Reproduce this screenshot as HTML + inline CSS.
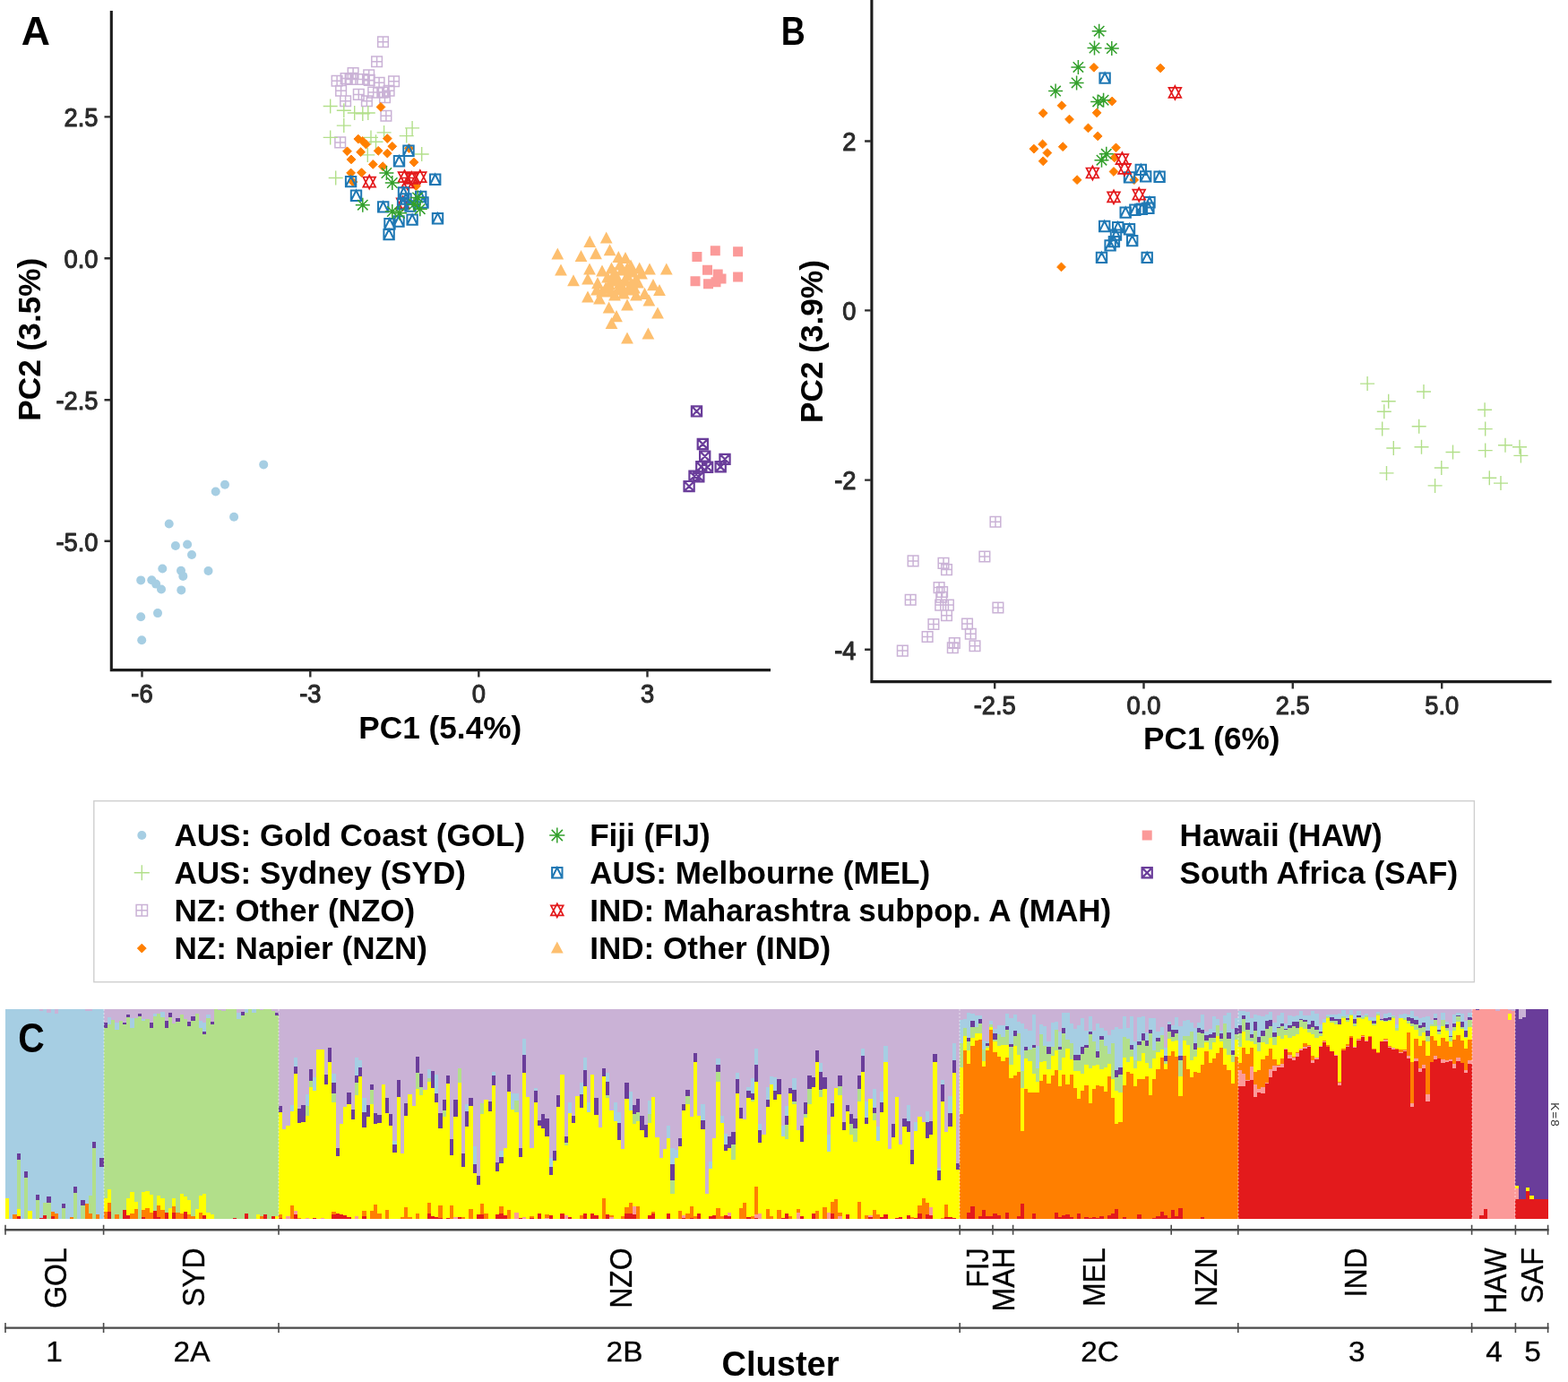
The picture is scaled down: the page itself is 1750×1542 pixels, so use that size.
<!DOCTYPE html>
<html lang="en"><head><meta charset="utf-8"><title>Population structure: PCA and STRUCTURE clusters</title>
<style>html,body{margin:0;padding:0;background:#fff}body{width:1750px;height:1542px;overflow:hidden}svg{display:block}text{font-family:"Liberation Sans", sans-serif}</style>
</head><body>
<svg width="1750" height="1542" viewBox="0 0 1750 1542" role="img" aria-label="PCA scatter plots (A, B) and STRUCTURE bar plot (C)">
<rect width="1750" height="1542" fill="#fff"/>
<g id="panelA">
<path d="M124.3 12V747.6H860" fill="none" stroke="#1c1c1c" stroke-width="3.1" stroke-linejoin="miter"/>
<path d="M158.5 748.6v6.8M346.3 748.6v6.8M534.3 748.6v6.8M722.5 748.6v6.8M123.3 130.4h-6.8M123.3 288.3h-6.8M123.3 446.2h-6.8M123.3 603.8h-6.8" fill="none" stroke="#2e2e2e" stroke-width="2.4"/>
<g font-size="30" fill="#2b2b2b" stroke="#2b2b2b" stroke-width="1.15" stroke-linejoin="round">
<text transform="translate(158.5 784.3) scale(0.91 1)" text-anchor="middle">-6</text>
<text transform="translate(346.3 784.3) scale(0.91 1)" text-anchor="middle">-3</text>
<text transform="translate(534.3 784.3) scale(0.91 1)" text-anchor="middle">0</text>
<text transform="translate(722.5 784.3) scale(0.91 1)" text-anchor="middle">3</text>
<text transform="translate(109.5 141.2) scale(0.91 1)" text-anchor="end">2.5</text>
<text transform="translate(109.5 299.1) scale(0.91 1)" text-anchor="end">0.0</text>
<text transform="translate(109.5 457) scale(0.91 1)" text-anchor="end">-2.5</text>
<text transform="translate(109.5 614.6) scale(0.91 1)" text-anchor="end">-5.0</text>
</g>
<g font-size="35.2" font-weight="bold" fill="#000">
<text x="491.3" y="824.3" text-anchor="middle">PC1 (5.4%)</text>
<text transform="translate(44.6 378.7) rotate(-90)" text-anchor="middle">PC2 (3.5%)</text>
</g>
<circle cx="294.2" cy="518.4" r="5" fill="#a6cee3"/>
<circle cx="251" cy="540.7" r="5" fill="#a6cee3"/>
<circle cx="240.7" cy="548.5" r="5" fill="#a6cee3"/>
<circle cx="261.1" cy="576.7" r="5" fill="#a6cee3"/>
<circle cx="188.7" cy="584.5" r="5" fill="#a6cee3"/>
<circle cx="209.1" cy="607.5" r="5" fill="#a6cee3"/>
<circle cx="195.9" cy="609" r="5" fill="#a6cee3"/>
<circle cx="214" cy="619" r="5" fill="#a6cee3"/>
<circle cx="181.3" cy="634.5" r="5" fill="#a6cee3"/>
<circle cx="232.5" cy="637" r="5" fill="#a6cee3"/>
<circle cx="202" cy="636.7" r="5" fill="#a6cee3"/>
<circle cx="204.3" cy="642.9" r="5" fill="#a6cee3"/>
<circle cx="157.2" cy="647.4" r="5" fill="#a6cee3"/>
<circle cx="169.3" cy="647.2" r="5" fill="#a6cee3"/>
<circle cx="174.1" cy="651.6" r="5" fill="#a6cee3"/>
<circle cx="180" cy="657.5" r="5" fill="#a6cee3"/>
<circle cx="202.3" cy="658.4" r="5" fill="#a6cee3"/>
<circle cx="176" cy="684.1" r="5" fill="#a6cee3"/>
<circle cx="157.2" cy="688.2" r="5" fill="#a6cee3"/>
<circle cx="158.2" cy="714.3" r="5" fill="#a6cee3"/>
<path d="M421.7 40.9h11.6v11.6h-11.6zM421.7 46.7h11.6M427.5 40.9v11.6M414.8 63h11.6v11.6h-11.6zM414.8 68.8h11.6M420.6 63v11.6M388.3 75.8h11.6v11.6h-11.6zM388.3 81.6h11.6M394.1 75.8v11.6M405.9 78.1h11.6v11.6h-11.6zM405.9 83.9h11.6M411.7 78.1v11.6M370.3 84.5h11.6v11.6h-11.6zM370.3 90.3h11.6M376.1 84.5v11.6M380.3 81.8h11.6v11.6h-11.6zM380.3 87.6h11.6M386.1 81.8v11.6M385.3 82.7h11.6v11.6h-11.6zM385.3 88.5h11.6M391.1 82.7v11.6M393.1 82.7h11.6v11.6h-11.6zM393.1 88.5h11.6M398.9 82.7v11.6M399 82.7h11.6v11.6h-11.6zM399 88.5h11.6M404.8 82.7v11.6M406.4 83.6h11.6v11.6h-11.6zM406.4 89.4h11.6M412.2 83.6v11.6M417.3 86.4h11.6v11.6h-11.6zM417.3 92.2h11.6M423.1 86.4v11.6M433.8 85h11.6v11.6h-11.6zM433.8 90.8h11.6M439.6 85v11.6M374.8 95.5h11.6v11.6h-11.6zM374.8 101.3h11.6M380.6 95.5v11.6M394.5 99.6h11.6v11.6h-11.6zM394.5 105.4h11.6M400.3 99.6v11.6M410.9 97.3h11.6v11.6h-11.6zM410.9 103.1h11.6M416.7 97.3v11.6M421 97.3h11.6v11.6h-11.6zM421 103.1h11.6M426.8 97.3v11.6M428.3 95.5h11.6v11.6h-11.6zM428.3 101.3h11.6M434.1 95.5v11.6M379.8 106.9h11.6v11.6h-11.6zM379.8 112.7h11.6M385.6 106.9v11.6M403.6 106.9h11.6v11.6h-11.6zM403.6 112.7h11.6M409.4 106.9v11.6M423.7 102.8h11.6v11.6h-11.6zM423.7 108.6h11.6M429.5 102.8v11.6M425.1 123.4h11.6v11.6h-11.6zM425.1 129.2h11.6M430.9 123.4v11.6M373.9 153.1h11.6v11.6h-11.6zM373.9 158.9h11.6M379.7 153.1v11.6" fill="none" stroke="#cab2d6" stroke-width="1.5"/>
<path d="M360.7 118.5h16M368.7 110.5v16M375.8 123.2h16M383.8 115.2v16M387.7 126h16M395.7 118v16M396.8 126.9h16M404.8 118.9v16M402.8 126h16M410.8 118v16M375.8 140.1h16M383.8 132.1v16M360.7 153.4h16M368.7 145.4v16M406 153.4h16M414 145.4v16M420.6 147.9h16M428.6 139.9v16M452.1 142.9h16M460.1 134.9v16M445.7 151.6h16M453.7 143.6v16M462.7 172h16M470.7 164v16M402.3 172.9h16M410.3 164.9v16M366.7 198.5h16M374.7 190.5v16M411.5 158.3h16M419.5 150.3v16" fill="none" stroke="#b2df8a" stroke-width="1.4"/>
<path d="M456.5 160.6l4.9 4.9l-4.9 4.9l-4.9 -4.9zM425 114.5l4.9 4.9l-4.9 4.9l-4.9 -4.9zM399.8 150.2l4.9 4.9l-4.9 4.9l-4.9 -4.9zM404.8 152.5l4.9 4.9l-4.9 4.9l-4.9 -4.9zM408.5 156.1l4.9 4.9l-4.9 4.9l-4.9 -4.9zM432.3 149.7l4.9 4.9l-4.9 4.9l-4.9 -4.9zM437.8 158.4l4.9 4.9l-4.9 4.9l-4.9 -4.9zM387.5 163.9l4.9 4.9l-4.9 4.9l-4.9 -4.9zM402.6 164.8l4.9 4.9l-4.9 4.9l-4.9 -4.9zM422.2 163.4l4.9 4.9l-4.9 4.9l-4.9 -4.9zM432.3 166.2l4.9 4.9l-4.9 4.9l-4.9 -4.9zM392 173l4.9 4.9l-4.9 4.9l-4.9 -4.9zM416.3 178.5l4.9 4.9l-4.9 4.9l-4.9 -4.9zM427.2 180.8l4.9 4.9l-4.9 4.9l-4.9 -4.9zM391.6 188.1l4.9 4.9l-4.9 4.9l-4.9 -4.9zM403.5 187.7l4.9 4.9l-4.9 4.9l-4.9 -4.9zM462 176.2l4.9 4.9l-4.9 4.9l-4.9 -4.9zM464.3 202.7l4.9 4.9l-4.9 4.9l-4.9 -4.9zM393.9 198.2l4.9 4.9l-4.9 4.9l-4.9 -4.9z" fill="#ff7f00" stroke="#ff7f00" stroke-width="1.0" stroke-linejoin="round"/>
<path d="M412.2 195.5l6.9 13.1h-13.8zM412.2 210.7l6.9 -13.1h-13.8zM451.5 190l6.9 13.1h-13.8zM451.5 205.2l6.9 -13.1h-13.8zM468.8 190l6.9 13.1h-13.8zM468.8 205.2l6.9 -13.1h-13.8zM459.7 191.8l6.9 13.1h-13.8zM459.7 207l6.9 -13.1h-13.8zM449.6 219.2l6.9 13.1h-13.8zM449.6 234.4l6.9 -13.1h-13.8zM455 196.4l6.9 13.1h-13.8zM455 211.6l6.9 -13.1h-13.8z" fill="none" stroke="#e31a1c" stroke-width="1.7"/>
<path d="M450.3 162.6h11.4v11.4h-11.4zM450.3 174l5.7 -11.4l5.7 11.4M439.8 174.1h11.4v11.4h-11.4zM439.8 185.5l5.7 -11.4l5.7 11.4M480 194.6h11.4v11.4h-11.4zM480 206l5.7 -11.4l5.7 11.4M385.9 196.9h11.4v11.4h-11.4zM385.9 208.3l5.7 -11.4l5.7 11.4M391.8 212.5h11.4v11.4h-11.4zM391.8 223.9l5.7 -11.4l5.7 11.4M422 225.2h11.4v11.4h-11.4zM422 236.6l5.7 -11.4l5.7 11.4M444.8 209.3h11.4v11.4h-11.4zM444.8 220.7l5.7 -11.4l5.7 11.4M464 213.8h11.4v11.4h-11.4zM464 225.2l5.7 -11.4l5.7 11.4M443.9 222.1h11.4v11.4h-11.4zM443.9 233.5l5.7 -11.4l5.7 11.4M429.3 244h11.4v11.4h-11.4zM429.3 255.4l5.7 -11.4l5.7 11.4M439.3 241.3h11.4v11.4h-11.4zM439.3 252.7l5.7 -11.4l5.7 11.4M454.4 239.4h11.4v11.4h-11.4zM454.4 250.8l5.7 -11.4l5.7 11.4M482.8 238h11.4v11.4h-11.4zM482.8 249.4l5.7 -11.4l5.7 11.4M428.4 255.9h11.4v11.4h-11.4zM428.4 267.3l5.7 -11.4l5.7 11.4M447.3 216.3h11.4v11.4h-11.4zM447.3 227.7l5.7 -11.4l5.7 11.4M452.3 224.3h11.4v11.4h-11.4zM452.3 235.7l5.7 -11.4l5.7 11.4M466.3 220.3h11.4v11.4h-11.4zM466.3 231.7l5.7 -11.4l5.7 11.4" fill="none" stroke="#1f78b4" stroke-width="2.0"/>
<path d="M423.4 193h16M431.4 185v16M425.7 187.3l11.4 11.4M425.7 198.7l11.4 -11.4M429.8 204h16M437.8 196v16M432.1 198.3l11.4 11.4M432.1 209.7l11.4 -11.4M396.8 228.7h16M404.8 220.7v16M399.1 223l11.4 11.4M399.1 234.4l11.4 -11.4M429.8 236h16M437.8 228v16M432.1 230.3l11.4 11.4M432.1 241.7l11.4 -11.4M438 237.8h16M446 229.8v16M440.3 232.1l11.4 11.4M440.3 243.5l11.4 -11.4M460.8 233.2h16M468.8 225.2v16M463.1 227.5l11.4 11.4M463.1 238.9l11.4 -11.4M458.1 220.4h16M466.1 212.4v16M460.4 214.7l11.4 11.4M460.4 226.1l11.4 -11.4M454 228h16M462 220v16M456.3 222.3l11.4 11.4M456.3 233.7l11.4 -11.4" fill="none" stroke="#33a02c" stroke-width="1.5"/>
<path d="M676.7 258.5l6.9 13.1h-13.8zM658.2 262.8l6.9 13.1h-13.8zM622.3 276.4l6.9 13.1h-13.8zM648.5 279l6.9 13.1h-13.8zM665 276.1l6.9 13.1h-13.8zM680.6 272.2l6.9 13.1h-13.8zM690.3 279.9l6.9 13.1h-13.8zM698 280.9l6.9 13.1h-13.8zM626 294.4l6.9 13.1h-13.8zM658 293.4l6.9 13.1h-13.8zM672 295.4l6.9 13.1h-13.8zM682.5 292.4l6.9 13.1h-13.8zM704 289.4l6.9 13.1h-13.8zM713.7 292.4l6.9 13.1h-13.8zM725 293.4l6.9 13.1h-13.8zM743.8 293.4l6.9 13.1h-13.8zM640 306.2l6.9 13.1h-13.8zM656 304.4l6.9 13.1h-13.8zM667 309.1l6.9 13.1h-13.8zM692 309.1l6.9 13.1h-13.8zM729 311.1l6.9 13.1h-13.8zM736 316.9l6.9 13.1h-13.8zM719.5 320.8l6.9 13.1h-13.8zM710 322.4l6.9 13.1h-13.8zM656 324.4l6.9 13.1h-13.8zM669 326.4l6.9 13.1h-13.8zM679.6 336.4l6.9 13.1h-13.8zM700 333.4l6.9 13.1h-13.8zM724.4 328.4l6.9 13.1h-13.8zM734 342.4l6.9 13.1h-13.8zM688 346.1l6.9 13.1h-13.8zM682.5 353.9l6.9 13.1h-13.8zM723.4 365.4l6.9 13.1h-13.8zM700 370.4l6.9 13.1h-13.8zM686 297.4l6.9 13.1h-13.8zM694 294.4l6.9 13.1h-13.8zM700 300.4l6.9 13.1h-13.8zM706 296.4l6.9 13.1h-13.8zM678 302.4l6.9 13.1h-13.8zM684 306.4l6.9 13.1h-13.8zM698 306.4l6.9 13.1h-13.8zM704 310.4l6.9 13.1h-13.8zM710 304.4l6.9 13.1h-13.8zM676 314.4l6.9 13.1h-13.8zM682 318.4l6.9 13.1h-13.8zM690 316.4l6.9 13.1h-13.8zM696 320.4l6.9 13.1h-13.8zM702 316.4l6.9 13.1h-13.8zM708 314.4l6.9 13.1h-13.8zM672 318.4l6.9 13.1h-13.8zM688 302.4l6.9 13.1h-13.8zM694 312.4l6.9 13.1h-13.8zM680 310.4l6.9 13.1h-13.8zM700 292.4l6.9 13.1h-13.8zM692 288.4l6.9 13.1h-13.8zM686 322.4l6.9 13.1h-13.8zM666 316.4l6.9 13.1h-13.8zM712 308.4l6.9 13.1h-13.8zM716 298.4l6.9 13.1h-13.8z" fill="#fdbf6f"/>
<path d="M772.4 281.1h11v11h-11zM792.8 274.3h11v11h-11zM818.1 275.2h11v11h-11zM784 295.7h11v11h-11zM795.7 300.5h11v11h-11zM799.5 305.5h11v11h-11zM770.5 308.3h11v11h-11zM785 311.2h11v11h-11zM818.1 303.5h11v11h-11zM793.5 309.3h11v11h-11z" fill="#fb9a99"/>
<path d="M771.9 453.3h11.2v11.2h-11.2zM771.9 453.3l11.2 11.2M771.9 464.5l11.2 -11.2M778.7 489.9h11.2v11.2h-11.2zM778.7 489.9l11.2 11.2M778.7 501.1l11.2 -11.2M781.1 503.5h11.2v11.2h-11.2zM781.1 503.5l11.2 11.2M781.1 514.7l11.2 -11.2M803.4 506.8h11.2v11.2h-11.2zM803.4 506.8l11.2 11.2M803.4 518l11.2 -11.2M798.6 515.2h11.2v11.2h-11.2zM798.6 515.2l11.2 11.2M798.6 526.4l11.2 -11.2M777.2 515.2h11.2v11.2h-11.2zM777.2 515.2l11.2 11.2M777.2 526.4l11.2 -11.2M784 515.6h11.2v11.2h-11.2zM784 515.6l11.2 11.2M784 526.8l11.2 -11.2M769.4 525.7h11.2v11.2h-11.2zM769.4 525.7l11.2 11.2M769.4 536.9l11.2 -11.2M774.2 526.3h11.2v11.2h-11.2zM774.2 526.3l11.2 11.2M774.2 537.5l11.2 -11.2M763.5 537h11.2v11.2h-11.2zM763.5 537l11.2 11.2M763.5 548.2l11.2 -11.2" fill="none" stroke="#6a3d9a" stroke-width="2.2"/>
<text x="23.8" y="49.8" font-size="44.5" font-weight="bold" fill="#000">A</text>
</g>
<g id="panelB">
<path d="M972.9 0V760.6H1731.6" fill="none" stroke="#1c1c1c" stroke-width="3.1" stroke-linejoin="miter"/>
<path d="M1110.2 761.6v6.8M1276.5 761.6v6.8M1442.8 761.6v6.8M1609.2 761.6v6.8M971.9 157.5h-6.8M971.9 346.4h-6.8M971.9 535.6h-6.8M971.9 724.7h-6.8" fill="none" stroke="#2e2e2e" stroke-width="2.4"/>
<g font-size="30" fill="#2b2b2b" stroke="#2b2b2b" stroke-width="1.15" stroke-linejoin="round">
<text transform="translate(1110.2 796.6) scale(0.91 1)" text-anchor="middle">-2.5</text>
<text transform="translate(1276.5 796.6) scale(0.91 1)" text-anchor="middle">0.0</text>
<text transform="translate(1442.8 796.6) scale(0.91 1)" text-anchor="middle">2.5</text>
<text transform="translate(1609.2 796.6) scale(0.91 1)" text-anchor="middle">5.0</text>
<text transform="translate(955.5 168.3) scale(0.91 1)" text-anchor="end">2</text>
<text transform="translate(955.5 357.2) scale(0.91 1)" text-anchor="end">0</text>
<text transform="translate(955.5 546.4) scale(0.91 1)" text-anchor="end">-2</text>
<text transform="translate(955.5 735.5) scale(0.91 1)" text-anchor="end">-4</text>
</g>
<g font-size="35.2" font-weight="bold" fill="#000">
<text x="1352.3" y="836" text-anchor="middle">PC1 (6%)</text>
<text transform="translate(917.8 381) rotate(-90)" text-anchor="middle">PC2 (3.9%)</text>
</g>
<path d="M1105.2 576.5h11.6v11.6h-11.6zM1105.2 582.3h11.6M1111 576.5v11.6M1093.1 615.2h11.6v11.6h-11.6zM1093.1 621h11.6M1098.9 615.2v11.6M1013.3 620.1h11.6v11.6h-11.6zM1013.3 625.9h11.6M1019.1 620.1v11.6M1047.2 622.6h11.6v11.6h-11.6zM1047.2 628.4h11.6M1053 622.6v11.6M1050.7 629.8h11.6v11.6h-11.6zM1050.7 635.6h11.6M1056.5 629.8v11.6M1042.3 649.8h11.6v11.6h-11.6zM1042.3 655.6h11.6M1048.1 649.8v11.6M1045.8 654.7h11.6v11.6h-11.6zM1045.8 660.5h11.6M1051.6 654.7v11.6M1044.9 660.5h11.6v11.6h-11.6zM1044.9 666.3h11.6M1050.7 660.5v11.6M1010.4 663.5h11.6v11.6h-11.6zM1010.4 669.3h11.6M1016.2 663.5v11.6M1043.9 669.3h11.6v11.6h-11.6zM1043.9 675.1h11.6M1049.7 669.3v11.6M1052.6 669.3h11.6v11.6h-11.6zM1052.6 675.1h11.6M1058.4 669.3v11.6M1108.1 672.2h11.6v11.6h-11.6zM1108.1 678h11.6M1113.9 672.2v11.6M1050.7 681h11.6v11.6h-11.6zM1050.7 686.8h11.6M1056.5 681v11.6M1036.1 690.7h11.6v11.6h-11.6zM1036.1 696.5h11.6M1041.9 690.7v11.6M1073.7 690.3h11.6v11.6h-11.6zM1073.7 696.1h11.6M1079.5 690.3v11.6M1077.5 701.4h11.6v11.6h-11.6zM1077.5 707.2h11.6M1083.3 701.4v11.6M1029.3 704.7h11.6v11.6h-11.6zM1029.3 710.5h11.6M1035.1 704.7v11.6M1059.5 711.7h11.6v11.6h-11.6zM1059.5 717.5h11.6M1065.3 711.7v11.6M1057.5 717h11.6v11.6h-11.6zM1057.5 722.8h11.6M1063.3 717v11.6M1082.2 715h11.6v11.6h-11.6zM1082.2 720.8h11.6M1088 715v11.6M1001.5 720.3h11.6v11.6h-11.6zM1001.5 726.1h11.6M1007.3 720.3v11.6" fill="none" stroke="#cab2d6" stroke-width="1.5"/>
<path d="M1518.1 428.1h16M1526.1 420.1v16M1581 437h16M1589 429v16M1541.7 447.7h16M1549.7 439.7v16M1536.8 459.2h16M1544.8 451.2v16M1649.1 457.2h16M1657.1 449.2v16M1534.7 478.6h16M1542.7 470.6v16M1575.7 475.7h16M1583.7 467.7v16M1649.7 478.6h16M1657.7 470.6v16M1547.3 500h16M1555.3 492v16M1578.5 498.7h16M1586.5 490.7v16M1613.5 504.5h16M1621.5 496.5v16M1649.7 502.6h16M1657.7 494.6v16M1672 496.7h16M1680 488.7v16M1688 498.7h16M1696 490.7v16M1689.4 508.4h16M1697.4 500.4v16M1600.8 522h16M1608.8 514v16M1539.5 527.9h16M1547.5 519.9v16M1593.6 541.9h16M1601.6 533.9v16M1654.3 533.3h16M1662.3 525.3v16M1667 539.1h16M1675 531.1v16" fill="none" stroke="#b2df8a" stroke-width="1.4"/>
<path d="M1220.9 70.4l4.9 4.9l-4.9 4.9l-4.9 -4.9zM1295.2 71.1l4.9 4.9l-4.9 4.9l-4.9 -4.9zM1241.2 108.1l4.9 4.9l-4.9 4.9l-4.9 -4.9zM1185 112.8l4.9 4.9l-4.9 4.9l-4.9 -4.9zM1164.2 121.4l4.9 4.9l-4.9 4.9l-4.9 -4.9zM1224.1 120.9l4.9 4.9l-4.9 4.9l-4.9 -4.9zM1193.5 128.2l4.9 4.9l-4.9 4.9l-4.9 -4.9zM1214.5 138l4.9 4.9l-4.9 4.9l-4.9 -4.9zM1225.2 147l4.9 4.9l-4.9 4.9l-4.9 -4.9zM1163.6 156l4.9 4.9l-4.9 4.9l-4.9 -4.9zM1186.2 158.8l4.9 4.9l-4.9 4.9l-4.9 -4.9zM1153.9 161.2l4.9 4.9l-4.9 4.9l-4.9 -4.9zM1168.9 165.7l4.9 4.9l-4.9 4.9l-4.9 -4.9zM1164.2 174.9l4.9 4.9l-4.9 4.9l-4.9 -4.9zM1245.5 159.9l4.9 4.9l-4.9 4.9l-4.9 -4.9zM1243.8 171l4.9 4.9l-4.9 4.9l-4.9 -4.9zM1243 186.6l4.9 4.9l-4.9 4.9l-4.9 -4.9zM1202.1 195.8l4.9 4.9l-4.9 4.9l-4.9 -4.9zM1265.8 195.8l4.9 4.9l-4.9 4.9l-4.9 -4.9zM1184.5 293l4.9 4.9l-4.9 4.9l-4.9 -4.9z" fill="#ff7f00" stroke="#ff7f00" stroke-width="1.0" stroke-linejoin="round"/>
<path d="M1227.4 81.4h11.4v11.4h-11.4zM1227.4 92.8l5.7 -11.4l5.7 11.4M1267.6 183.7h11.4v11.4h-11.4zM1267.6 195.1l5.7 -11.4l5.7 11.4M1273 191.2h11.4v11.4h-11.4zM1273 202.6l5.7 -11.4l5.7 11.4M1288.4 191.6h11.4v11.4h-11.4zM1288.4 203l5.7 -11.4l5.7 11.4M1254.8 192.2h11.4v11.4h-11.4zM1254.8 203.6l5.7 -11.4l5.7 11.4M1277.3 220.1h11.4v11.4h-11.4zM1277.3 231.5l5.7 -11.4l5.7 11.4M1276.2 226.5h11.4v11.4h-11.4zM1276.2 237.9l5.7 -11.4l5.7 11.4M1268.7 227.6h11.4v11.4h-11.4zM1268.7 239l5.7 -11.4l5.7 11.4M1261.2 228.6h11.4v11.4h-11.4zM1261.2 240l5.7 -11.4l5.7 11.4M1250.5 231.4h11.4v11.4h-11.4zM1250.5 242.8l5.7 -11.4l5.7 11.4M1227 246.8h11.4v11.4h-11.4zM1227 258.2l5.7 -11.4l5.7 11.4M1242 247.9h11.4v11.4h-11.4zM1242 259.3l5.7 -11.4l5.7 11.4M1254.8 250h11.4v11.4h-11.4zM1254.8 261.4l5.7 -11.4l5.7 11.4M1239.8 256.4h11.4v11.4h-11.4zM1239.8 267.8l5.7 -11.4l5.7 11.4M1258 262.9h11.4v11.4h-11.4zM1258 274.3l5.7 -11.4l5.7 11.4M1237.7 263.9h11.4v11.4h-11.4zM1237.7 275.3l5.7 -11.4l5.7 11.4M1233.4 268.2h11.4v11.4h-11.4zM1233.4 279.6l5.7 -11.4l5.7 11.4M1223.8 281.7h11.4v11.4h-11.4zM1223.8 293.1l5.7 -11.4l5.7 11.4M1274.5 281.7h11.4v11.4h-11.4zM1274.5 293.1l5.7 -11.4l5.7 11.4" fill="none" stroke="#1f78b4" stroke-width="2.0"/>
<path d="M1311.4 95.8l6.9 13.1h-13.8zM1311.4 111l6.9 -13.1h-13.8zM1252.4 170l6.9 13.1h-13.8zM1252.4 185.2l6.9 -13.1h-13.8zM1255.1 180.7l6.9 13.1h-13.8zM1255.1 195.9l6.9 -13.1h-13.8zM1219.4 185.4l6.9 13.1h-13.8zM1219.4 200.6l6.9 -13.1h-13.8zM1243 212.2l6.9 13.1h-13.8zM1243 227.4l6.9 -13.1h-13.8zM1271.2 209.6l6.9 13.1h-13.8zM1271.2 224.8l6.9 -13.1h-13.8z" fill="none" stroke="#e31a1c" stroke-width="1.7"/>
<path d="M1218.7 34.7h16M1226.7 26.7v16M1221 29l11.4 11.4M1221 40.4l11.4 -11.4M1213.5 53.5h16M1221.5 45.5v16M1215.8 47.8l11.4 11.4M1215.8 59.2l11.4 -11.4M1232.8 54.1h16M1240.8 46.1v16M1235.1 48.4l11.4 11.4M1235.1 59.8l11.4 -11.4M1195.4 74.9h16M1203.4 66.9v16M1197.7 69.2l11.4 11.4M1197.7 80.6l11.4 -11.4M1193.6 92.4h16M1201.6 84.4v16M1195.9 86.7l11.4 11.4M1195.9 98.1l11.4 -11.4M1170.1 101.6h16M1178.1 93.6v16M1172.4 95.9l11.4 11.4M1172.4 107.3l11.4 -11.4M1217.2 113.4h16M1225.2 105.4v16M1219.5 107.7l11.4 11.4M1219.5 119.1l11.4 -11.4M1223.6 111.7h16M1231.6 103.7v16M1225.9 106l11.4 11.4M1225.9 117.4l11.4 -11.4M1226.8 171.8h16M1234.8 163.8v16M1229.1 166.1l11.4 11.4M1229.1 177.5l11.4 -11.4M1221.5 178.7h16M1229.5 170.7v16M1223.8 173l11.4 11.4M1223.8 184.4l11.4 -11.4" fill="none" stroke="#33a02c" stroke-width="1.5"/>
<text x="871.8" y="49.8" font-size="43.5" font-weight="bold" fill="#000" textLength="27" lengthAdjust="spacingAndGlyphs">B</text>
</g>
<g id="legend">
<rect x="104.8" y="893.7" width="1540.6" height="202" fill="#fff" stroke="#cfcfcf" stroke-width="1.4"/>
<g font-size="35.1" font-weight="bold" fill="#000">
<text x="194.4" y="944.2">AUS: Gold Coast (GOL)</text>
<text x="194.4" y="986">AUS: Sydney (SYD)</text>
<text x="194.4" y="1028">NZ: Other (NZO)</text>
<text x="194.4" y="1070.3">NZ: Napier (NZN)</text>
<text x="658.2" y="944.2">Fiji (FIJ)</text>
<text x="658.2" y="986">AUS: Melbourne (MEL)</text>
<text x="658.2" y="1028">IND: Maharashtra subpop. A (MAH)</text>
<text x="658.2" y="1070.3">IND: Other (IND)</text>
<text x="1316.6" y="944.2">Hawaii (HAW)</text>
<text x="1316.6" y="986">South Africa (SAF)</text>
</g>
<circle cx="158.3" cy="932" r="5" fill="#a6cee3"/>
<path d="M149.7 973.8h17.1M158.3 965.2v17.1" fill="none" stroke="#b2df8a" stroke-width="1.4"/>
<path d="M152.1 1009.6h12.4v12.4h-12.4zM152.1 1015.8h12.4M158.3 1009.6v12.4" fill="none" stroke="#cab2d6" stroke-width="1.5"/>
<path d="M158.3 1053.2l4.9 4.9l-4.9 4.9l-4.9 -4.9z" fill="#ff7f00" stroke="#ff7f00" stroke-width="1.0" stroke-linejoin="round"/>
<path d="M613.2 932h17.1M621.8 923.4v17.1M615.7 925.9l12.2 12.2M615.7 938.1l12.2 -12.2" fill="none" stroke="#33a02c" stroke-width="1.5"/>
<path d="M616.1 968.1h11.4v11.4h-11.4zM616.1 979.5l5.7 -11.4l5.7 11.4" fill="none" stroke="#1f78b4" stroke-width="2.0"/>
<path d="M621.8 1008.2l6.9 13.1h-13.8zM621.8 1023.4l6.9 -13.1h-13.8z" fill="none" stroke="#e31a1c" stroke-width="1.7"/>
<path d="M621.8 1050.5l6.9 13.1h-13.8z" fill="#fdbf6f"/>
<path d="M1274.7 926.5h11v11h-11z" fill="#fb9a99"/>
<path d="M1274.6 968.2h11.2v11.2h-11.2zM1274.6 968.2l11.2 11.2M1274.6 979.4l11.2 -11.2" fill="none" stroke="#6a3d9a" stroke-width="2.2"/>
</g>
<rect x="6" y="1126" width="110" height="234" fill="#a6cee3"/>
<rect x="116" y="1126" width="195" height="234" fill="#b2df8a"/>
<rect x="311" y="1126" width="760" height="234" fill="#cab2d6"/>
<rect x="1071" y="1126" width="37" height="234" fill="#ff7f00"/>
<rect x="1108" y="1126" width="23" height="234" fill="#ff7f00"/>
<rect x="1131" y="1126" width="176" height="234" fill="#ff7f00"/>
<rect x="1307" y="1126" width="75" height="234" fill="#ff7f00"/>
<rect x="1382" y="1126" width="261" height="234" fill="#e31a1c"/>
<rect x="1643" y="1126" width="48" height="234" fill="#fb9a99"/>
<rect x="1691" y="1126" width="37" height="234" fill="#6a3d9a"/>
<g shape-rendering="crispEdges">
<path d="M19 1357h4v3h-4zM44 1359h4v1h-4zM48 1356h4v4h-4zM57 1357h4v3h-4zM120 1352h4v8h-4zM137 1350h4v10h-4zM141 1356h4v4h-4zM158 1358h4v2h-4zM171 1351h4v9h-4zM175 1358h4v2h-4zM184 1353h4v7h-4zM192 1353h4v7h-4zM205 1352h4v8h-4zM226 1356h4v4h-4zM260 1359h4v1h-4zM273 1354h4v6h-4zM294 1355h4v5h-4zM303 1357h4v3h-4zM311 1359h4v1h-4zM328 1355h4v5h-4zM349 1359h4v1h-4zM370 1355h5v5h-5zM375 1354h4v6h-4zM379 1355h4v5h-4zM383 1356h4v4h-4zM387 1358h5v2h-5zM404 1357h5v3h-5zM477 1354h4v6h-4zM481 1357h4v3h-4zM485 1358h4v2h-4zM489 1359h5v1h-5zM498 1359h4v1h-4zM511 1358h4v2h-4zM532 1355h4v5h-4zM536 1355h4v5h-4zM553 1355h4v5h-4zM557 1354h5v6h-5zM562 1356h4v4h-4zM579 1359h4v1h-4zM591 1359h5v1h-5zM600 1354h4v6h-4zM613 1356h4v4h-4zM625 1354h5v6h-5zM634 1358h4v2h-4zM651 1354h4v6h-4zM659 1354h4v6h-4zM663 1356h5v4h-5zM676 1355h4v5h-4zM697 1354h5v6h-5zM702 1354h4v6h-4zM706 1355h4v5h-4zM723 1356h4v4h-4zM727 1354h4v6h-4zM744 1354h4v6h-4zM761 1359h4v1h-4zM770 1359h4v1h-4zM778 1354h4v6h-4zM791 1357h4v3h-4zM795 1356h4v4h-4zM808 1356h4v4h-4zM812 1357h4v3h-4zM833 1358h5v2h-5zM842 1359h4v1h-4zM872 1359h4v1h-4zM876 1354h4v6h-4zM893 1357h4v3h-4zM906 1354h4v6h-4zM927 1354h4v6h-4zM944 1355h4v5h-4zM969 1358h5v2h-5zM982 1358h4v2h-4zM986 1355h5v5h-5zM999 1359h4v1h-4zM1003 1358h4v2h-4zM1012 1356h4v4h-4zM1020 1359h4v1h-4zM1024 1354h5v6h-5zM1033 1355h4v5h-4zM1037 1356h4v4h-4zM1054 1358h4v2h-4zM1058 1358h5v2h-5zM1063 1359h4v1h-4zM1079 1353h4v7h-4zM1083 1346h5v14h-5zM1092 1357h4v3h-4zM1096 1350h4v10h-4zM1100 1357h4v3h-4zM1104 1357h4v3h-4zM1108 1354h5v6h-5zM1113 1356h4v4h-4zM1122 1353h4v7h-4zM1135 1357h4v3h-4zM1139 1343h4v17h-4zM1152 1354h4v6h-4zM1177 1353h4v7h-4zM1181 1358h4v2h-4zM1185 1356h4v4h-4zM1189 1355h5v5h-5zM1194 1358h4v2h-4zM1202 1354h4v6h-4zM1210 1358h5v2h-5zM1215 1359h4v1h-4zM1219 1358h4v2h-4zM1223 1359h4v1h-4zM1227 1357h5v3h-5zM1236 1356h4v4h-4zM1240 1354h4v6h-4zM1244 1349h4v11h-4zM1253 1358h4v2h-4zM1269 1355h5v5h-5zM1286 1359h4v1h-4zM1290 1357h5v3h-5zM1295 1352h4v8h-4zM1299 1356h4v4h-4zM1303 1359h4v1h-4zM1307 1350h4v10h-4zM1311 1357h4v3h-4zM1315 1348h5v12h-5zM1340 1358h4v2h-4zM1651 1356h5v4h-5zM1656 1349h4v11h-4zM1691 1338h4v22h-4zM1695 1338h4v22h-4zM1699 1338h4v22h-4zM1703 1329h4v31h-4zM1707 1338h5v22h-5zM1712 1338h4v22h-4zM1716 1338h4v22h-4zM1720 1338h4v22h-4zM1724 1338h4v22h-4z" fill="#e31a1c"/>
<path d="M319 1357h5v3h-5zM328 1351h4v4h-4zM341 1359h4v1h-4zM358 1359h4v1h-4zM396 1357h4v3h-4zM506 1358h5v2h-5zM574 1353h5v7h-5zM583 1358h4v2h-4zM608 1359h5v1h-5zM630 1356h4v4h-4zM680 1358h5v2h-5zM706 1346h4v9h-4zM761 1356h4v3h-4zM812 1353h4v4h-4zM842 1355h4v4h-4zM846 1354h4v6h-4zM889 1353h4v7h-4zM923 1353h4v7h-4zM935 1357h5v3h-5zM969 1356h5v2h-5zM1037 1347h4v9h-4zM1382 1194h4v18h-4zM1386 1198h4v14h-4zM1390 1205h5v1h-5zM1395 1190h4v15h-4zM1399 1210h4v14h-4zM1403 1215h4v4h-4zM1407 1213h5v7h-5zM1412 1208h4v1h-4zM1416 1193h4v9h-4zM1420 1189h5v6h-5zM1425 1189h4v2h-4zM1429 1187h4v4h-4zM1433 1170h4v1h-4zM1437 1177h5v4h-5zM1442 1180h4v3h-4zM1446 1175h4v4h-4zM1450 1170h4v2h-4zM1454 1168h5v2h-5zM1459 1167h4v1h-4zM1463 1183h4v3h-4zM1467 1180h5v2h-5zM1472 1167h4v1h-4zM1476 1162h4v1h-4zM1489 1177h4v1h-4zM1493 1208h4v3h-4zM1502 1167h4v1h-4zM1510 1168h4v1h-4zM1514 1160h5v1h-5zM1519 1156h4v1h-4zM1523 1161h4v1h-4zM1544 1160h5v2h-5zM1549 1168h4v1h-4zM1553 1169h4v2h-4zM1561 1174h5v1h-5zM1566 1172h4v1h-4zM1570 1178h4v3h-4zM1574 1231h4v4h-4zM1578 1181h5v3h-5zM1583 1192h4v4h-4zM1587 1188h4v4h-4zM1591 1221h5v8h-5zM1600 1178h4v4h-4zM1608 1182h5v4h-5zM1613 1183h4v2h-4zM1617 1182h4v2h-4zM1621 1187h4v5h-4zM1625 1180h5v4h-5zM1634 1194h4v3h-4zM1638 1183h5v4h-5zM1691 1326h4v12h-4z" fill="#fb9a99"/>
<path d="M14 1355h5v5h-5zM57 1352h4v5h-4zM61 1354h4v6h-4zM78 1358h4v2h-4zM95 1343h4v17h-4zM99 1354h4v6h-4zM107 1355h4v5h-4zM116 1352h4v8h-4zM120 1342h4v10h-4zM128 1355h5v5h-5zM145 1354h5v6h-5zM150 1349h4v11h-4zM158 1350h4v8h-4zM162 1348h5v12h-5zM167 1353h4v7h-4zM175 1345h4v13h-4zM179 1350h5v10h-5zM192 1346h4v7h-4zM196 1353h5v7h-5zM201 1354h4v6h-4zM209 1355h4v5h-4zM213 1357h5v3h-5zM222 1353h4v7h-4zM290 1357h4v3h-4zM311 1355h4v4h-4zM324 1345h4v15h-4zM332 1359h4v1h-4zM370 1352h5v3h-5zM404 1351h5v6h-5zM413 1351h4v9h-4zM417 1344h4v16h-4zM421 1354h5v6h-5zM430 1350h4v10h-4zM447 1358h4v2h-4zM451 1347h4v13h-4zM455 1358h5v2h-5zM464 1354h4v6h-4zM477 1342h4v12h-4zM489 1345h5v14h-5zM502 1345h4v15h-4zM515 1358h4v2h-4zM523 1349h5v11h-5zM536 1343h4v12h-4zM540 1354h5v6h-5zM557 1346h5v8h-5zM566 1350h4v10h-4zM591 1357h5v2h-5zM608 1355h5v4h-5zM647 1356h4v4h-4zM672 1337h4v23h-4zM680 1356h5v2h-5zM693 1357h4v3h-4zM697 1347h5v7h-5zM702 1342h4v12h-4zM710 1346h4v14h-4zM727 1352h4v2h-4zM757 1351h4v9h-4zM765 1354h5v6h-5zM770 1346h4v13h-4zM774 1357h4v3h-4zM799 1348h5v12h-5zM804 1357h4v3h-4zM825 1348h4v12h-4zM829 1342h4v18h-4zM838 1357h4v3h-4zM842 1324h4v31h-4zM855 1349h4v11h-4zM859 1357h4v3h-4zM867 1350h5v10h-5zM880 1357h4v3h-4zM889 1349h4v4h-4zM910 1351h4v9h-4zM918 1347h5v13h-5zM927 1341h4v13h-4zM931 1338h4v22h-4zM935 1353h5v4h-5zM957 1341h4v19h-4zM965 1356h4v4h-4zM974 1350h4v10h-4zM978 1355h4v5h-4zM1016 1358h4v2h-4zM1024 1345h5v9h-5zM1029 1337h4v23h-4zM1033 1342h4v13h-4zM1050 1359h4v1h-4zM1054 1344h4v14h-4zM1382 1186h4v8h-4zM1386 1169h4v29h-4zM1390 1176h5v29h-5zM1395 1169h4v21h-4zM1399 1196h4v14h-4zM1403 1194h4v21h-4zM1407 1182h5v31h-5zM1412 1178h4v30h-4zM1416 1170h4v23h-4zM1420 1182h5v7h-5zM1425 1188h4v1h-4zM1429 1181h4v6h-4zM1437 1174h5v3h-5zM1442 1179h4v1h-4zM1446 1174h4v1h-4zM1454 1164h5v4h-5zM1459 1166h4v1h-4zM1463 1178h4v5h-4zM1476 1161h4v1h-4zM1480 1166h4v2h-4zM1493 1207h4v1h-4zM1497 1170h5v2h-5zM1502 1165h4v2h-4zM1506 1156h4v2h-4zM1514 1159h5v1h-5zM1519 1155h4v1h-4zM1527 1156h4v1h-4zM1531 1170h5v1h-5zM1536 1174h4v1h-4zM1544 1159h5v1h-5zM1549 1167h4v1h-4zM1557 1170h4v1h-4zM1561 1171h5v3h-5zM1566 1171h4v1h-4zM1570 1152h4v26h-4zM1574 1185h4v46h-4zM1578 1159h5v22h-5zM1583 1167h4v25h-4zM1587 1161h4v27h-4zM1591 1178h5v43h-5zM1596 1156h4v29h-4zM1600 1161h4v17h-4zM1604 1167h4v14h-4zM1608 1158h5v24h-5zM1613 1162h4v21h-4zM1617 1168h4v14h-4zM1621 1160h4v27h-4zM1625 1155h5v25h-5zM1630 1161h4v25h-4zM1634 1170h4v24h-4zM1638 1160h5v23h-5z" fill="#ff7f00"/>
<path d="M6 1337h4v23h-4zM19 1349h4v8h-4zM31 1351h5v9h-5zM116 1337h4v15h-4zM120 1327h4v15h-4zM141 1337h4v19h-4zM145 1330h5v24h-5zM150 1341h4v8h-4zM158 1330h4v20h-4zM162 1329h5v19h-5zM167 1333h4v20h-4zM175 1334h4v11h-4zM179 1337h5v13h-5zM188 1348h4v12h-4zM192 1337h4v9h-4zM201 1332h4v22h-4zM205 1335h4v17h-4zM209 1339h4v16h-4zM218 1349h4v11h-4zM222 1334h4v19h-4zM226 1332h4v24h-4zM230 1353h5v7h-5zM235 1355h4v5h-4zM286 1355h4v5h-4zM307 1357h4v3h-4zM311 1241h4v114h-4zM315 1260h4v100h-4zM319 1256h5v101h-5zM324 1240h4v105h-4zM328 1198h4v153h-4zM332 1253h4v106h-4zM336 1252h5v108h-5zM341 1245h4v114h-4zM345 1213h4v147h-4zM349 1217h4v142h-4zM353 1171h5v189h-5zM358 1171h4v188h-4zM362 1210h4v150h-4zM366 1185h4v175h-4zM370 1230h5v122h-5zM375 1290h4v64h-4zM379 1254h4v101h-4zM383 1235h4v121h-4zM387 1232h5v126h-5zM392 1249h4v111h-4zM396 1222h4v135h-4zM400 1201h4v159h-4zM404 1258h5v93h-5zM409 1246h4v114h-4zM413 1232h4v119h-4zM417 1254h4v90h-4zM421 1253h5v101h-5zM426 1210h4v150h-4zM430 1242h4v108h-4zM434 1256h4v104h-4zM438 1286h5v74h-5zM443 1224h4v136h-4zM447 1287h4v71h-4zM451 1245h4v102h-4zM455 1221h5v137h-5zM460 1234h4v126h-4zM464 1215h4v139h-4zM468 1222h4v138h-4zM472 1216h5v144h-5zM477 1207h4v135h-4zM481 1214h4v143h-4zM485 1230h4v128h-4zM489 1259h5v86h-5zM494 1246h4v114h-4zM498 1209h4v150h-4zM502 1289h4v56h-4zM506 1246h5v112h-5zM511 1208h4v150h-4zM515 1302h4v56h-4zM519 1257h4v103h-4zM523 1234h5v115h-5zM528 1309h4v51h-4zM532 1322h4v33h-4zM536 1243h4v100h-4zM540 1227h5v127h-5zM545 1240h4v120h-4zM549 1211h4v149h-4zM553 1307h4v48h-4zM557 1298h5v48h-5zM562 1281h4v75h-4zM566 1218h4v132h-4zM570 1238h4v122h-4zM574 1241h5v112h-5zM579 1291h4v68h-4zM583 1197h4v161h-4zM587 1224h4v136h-4zM591 1281h5v76h-5zM596 1230h4v130h-4zM600 1256h4v98h-4zM604 1259h4v101h-4zM608 1268h5v87h-5zM613 1311h4v45h-4zM617 1295h4v65h-4zM621 1235h4v125h-4zM625 1199h5v155h-5zM630 1278h4v78h-4zM634 1242h4v116h-4zM638 1253h4v107h-4zM642 1223h5v137h-5zM647 1236h4v120h-4zM651 1212h4v142h-4zM655 1241h4v119h-4zM659 1199h4v155h-4zM663 1244h5v112h-5zM668 1258h4v102h-4zM672 1201h4v136h-4zM676 1225h4v130h-4zM680 1239h5v117h-5zM685 1251h4v109h-4zM689 1272h4v88h-4zM693 1282h4v75h-4zM697 1226h5v121h-5zM702 1239h4v103h-4zM706 1254h4v92h-4zM710 1251h4v95h-4zM714 1261h5v99h-5zM719 1269h4v91h-4zM723 1253h4v103h-4zM727 1224h4v128h-4zM731 1269h5v91h-5zM736 1292h4v68h-4zM740 1282h4v78h-4zM744 1270h4v84h-4zM748 1332h5v28h-5zM753 1292h4v68h-4zM757 1279h4v72h-4zM761 1239h4v117h-4zM765 1232h5v122h-5zM770 1246h4v100h-4zM774 1185h4v172h-4zM778 1245h4v109h-4zM782 1260h5v100h-5zM787 1332h4v28h-4zM791 1304h4v53h-4zM795 1270h4v86h-4zM799 1207h5v141h-5zM804 1253h4v104h-4zM808 1284h4v72h-4zM812 1281h4v72h-4zM816 1294h5v66h-5zM821 1220h4v140h-4zM825 1248h4v100h-4zM829 1249h4v93h-4zM833 1225h5v133h-5zM838 1229h4v128h-4zM842 1207h4v117h-4zM846 1275h4v79h-4zM850 1266h5v94h-5zM855 1235h4v114h-4zM859 1210h4v147h-4zM863 1227h4v133h-4zM867 1221h5v129h-5zM872 1268h4v91h-4zM876 1271h4v83h-4zM880 1220h4v137h-4zM884 1232h5v128h-5zM889 1261h4v88h-4zM893 1274h4v83h-4zM897 1247h4v113h-4zM901 1232h5v128h-5zM906 1213h4v141h-4zM910 1185h4v166h-4zM914 1224h4v136h-4zM918 1215h5v132h-5zM923 1285h4v68h-4zM927 1246h4v95h-4zM931 1214h4v124h-4zM935 1222h5v131h-5zM940 1261h4v99h-4zM944 1240h4v115h-4zM948 1266h4v94h-4zM952 1274h5v86h-5zM957 1229h4v112h-4zM961 1196h4v164h-4zM965 1254h4v102h-4zM969 1226h5v130h-5zM974 1250h4v100h-4zM978 1273h4v82h-4zM982 1241h4v117h-4zM986 1185h5v170h-5zM991 1282h4v78h-4zM995 1269h4v91h-4zM999 1224h4v135h-4zM1003 1277h4v81h-4zM1007 1257h5v103h-5zM1012 1263h4v93h-4zM1016 1299h4v59h-4zM1020 1262h4v97h-4zM1024 1246h5v99h-5zM1029 1252h4v85h-4zM1033 1270h4v72h-4zM1037 1266h4v81h-4zM1041 1185h5v175h-5zM1046 1317h4v43h-4zM1050 1229h4v130h-4zM1054 1263h4v81h-4zM1058 1257h5v101h-5zM1063 1197h4v162h-4zM1067 1305h4v55h-4zM1071 1191h4v52h-4zM1075 1156h4v16h-4zM1079 1172h4v15h-4zM1083 1158h5v9h-5zM1088 1153h4v8h-4zM1092 1153h4v7h-4zM1096 1184h4v6h-4zM1100 1169h4v3h-4zM1104 1146h4v3h-4zM1108 1162h5v12h-5zM1113 1167h4v12h-4zM1117 1166h5v18h-5zM1122 1166h4v14h-4zM1126 1188h5v15h-5zM1131 1167h4v33h-4zM1135 1177h4v19h-4zM1139 1214h4v48h-4zM1143 1181h4v34h-4zM1147 1184h5v35h-5zM1152 1198h4v21h-4zM1156 1207h4v12h-4zM1160 1185h4v21h-4zM1164 1184h4v15h-4zM1168 1193h5v16h-5zM1173 1178h4v22h-4zM1177 1172h4v22h-4zM1181 1194h4v18h-4zM1185 1180h4v19h-4zM1189 1170h5v40h-5zM1194 1182h4v17h-4zM1198 1195h4v19h-4zM1202 1195h4v31h-4zM1206 1198h4v19h-4zM1210 1188h5v23h-5zM1215 1192h4v39h-4zM1219 1189h4v26h-4zM1223 1188h4v23h-4zM1227 1193h5v19h-5zM1232 1191h4v27h-4zM1236 1187h4v14h-4zM1240 1204h4v21h-4zM1244 1217h4v37h-4zM1248 1219h5v33h-5zM1253 1180h4v31h-4zM1257 1185h4v11h-4zM1261 1179h4v19h-4zM1265 1192h4v20h-4zM1269 1184h5v20h-5zM1274 1175h4v29h-4zM1278 1186h4v15h-4zM1282 1192h4v30h-4zM1286 1181h4v23h-4zM1290 1174h5v19h-5zM1295 1171h4v9h-4zM1299 1187h4v6h-4zM1303 1159h4v19h-4zM1307 1162h4v11h-4zM1311 1161h4v18h-4zM1315 1201h5v22h-5zM1320 1161h4v17h-4zM1324 1166h4v27h-4zM1328 1183h4v19h-4zM1332 1179h4v17h-4zM1336 1169h4v28h-4zM1340 1169h4v19h-4zM1344 1163h5v10h-5zM1349 1171h4v15h-4zM1353 1163h4v18h-4zM1357 1156h4v19h-4zM1361 1162h4v7h-4zM1365 1170h4v18h-4zM1369 1177h5v17h-5zM1374 1185h4v24h-4zM1378 1160h4v19h-4zM1382 1168h4v18h-4zM1386 1151h4v18h-4zM1390 1161h5v15h-5zM1395 1162h4v7h-4zM1399 1165h4v31h-4zM1403 1173h4v21h-4zM1407 1163h5v19h-5zM1412 1165h4v13h-4zM1416 1158h4v12h-4zM1420 1166h5v16h-5zM1425 1156h4v32h-4zM1429 1159h4v22h-4zM1433 1155h4v15h-4zM1437 1158h5v16h-5zM1442 1156h4v23h-4zM1446 1154h4v20h-4zM1450 1146h4v24h-4zM1454 1148h5v16h-5zM1459 1152h4v14h-4zM1463 1154h4v24h-4zM1467 1158h5v22h-5zM1472 1156h4v11h-4zM1476 1141h4v20h-4zM1480 1136h4v30h-4zM1484 1141h5v32h-5zM1489 1143h4v34h-4zM1493 1143h4v64h-4zM1497 1136h5v34h-5zM1502 1140h4v25h-4zM1506 1133h4v23h-4zM1510 1145h4v23h-4zM1514 1136h5v23h-5zM1519 1137h4v18h-4zM1523 1135h4v26h-4zM1527 1139h4v17h-4zM1531 1144h5v26h-5zM1536 1133h4v41h-4zM1540 1139h4v23h-4zM1544 1140h5v19h-5zM1549 1139h4v28h-4zM1553 1136h4v33h-4zM1557 1150h4v20h-4zM1561 1136h5v35h-5zM1566 1138h4v33h-4zM1570 1142h4v10h-4zM1574 1145h4v40h-4zM1578 1149h5v10h-5zM1583 1156h4v11h-4zM1587 1152h4v9h-4zM1591 1162h5v16h-5zM1596 1145h4v11h-4zM1600 1145h4v16h-4zM1604 1154h4v13h-4zM1608 1145h5v13h-5zM1613 1150h4v12h-4zM1617 1162h4v6h-4zM1621 1150h4v10h-4zM1625 1140h5v15h-5zM1630 1148h4v13h-4zM1634 1158h4v12h-4zM1638 1146h5v14h-5zM1683 1131h4v7h-4zM1691 1323h4v3h-4zM1703 1325h4v4h-4zM1707 1334h5v4h-5z" fill="#ffff00"/>
<path d="M19 1294h4v55h-4zM27 1314h4v46h-4zM40 1339h4v21h-4zM48 1342h4v14h-4zM52 1342h5v18h-5zM69 1348h4v12h-4zM82 1331h4v29h-4zM90 1345h5v15h-5zM99 1334h4v20h-4zM103 1281h4v79h-4zM341 1234h4v11h-4zM345 1206h4v7h-4zM370 1220h5v10h-5zM396 1208h4v14h-4zM413 1216h4v16h-4zM464 1197h4v18h-4zM468 1213h4v9h-4zM477 1203h4v4h-4zM494 1239h4v7h-4zM511 1192h4v16h-4zM536 1231h4v12h-4zM574 1228h5v13h-5zM630 1275h4v3h-4zM676 1222h4v3h-4zM706 1243h4v11h-4zM710 1241h4v10h-4zM723 1243h4v10h-4zM748 1317h5v15h-5zM765 1223h5v9h-5zM799 1196h5v11h-5zM816 1277h5v17h-5zM838 1227h4v2h-4zM876 1255h4v16h-4zM884 1229h5v3h-5zM897 1243h4v4h-4zM901 1215h5v17h-5zM914 1216h4v8h-4zM935 1212h5v10h-5zM948 1254h4v12h-4zM952 1259h5v15h-5zM957 1215h4v14h-4zM974 1242h4v8h-4zM1071 1164h4v27h-4zM1075 1147h4v9h-4zM1079 1162h4v10h-4zM1083 1146h5v12h-5zM1088 1146h4v7h-4zM1092 1142h4v11h-4zM1096 1171h4v13h-4zM1100 1167h4v2h-4zM1104 1143h4v3h-4zM1108 1160h5v2h-5zM1113 1154h4v13h-4zM1117 1157h5v9h-5zM1122 1149h4v17h-4zM1126 1168h5v20h-5zM1131 1156h4v11h-4zM1135 1153h4v24h-4zM1139 1195h4v19h-4zM1143 1172h4v9h-4zM1147 1171h5v13h-5zM1152 1169h4v29h-4zM1156 1192h4v15h-4zM1160 1154h4v31h-4zM1164 1167h4v17h-4zM1168 1176h5v17h-5zM1173 1168h4v10h-4zM1177 1149h4v23h-4zM1181 1171h4v23h-4zM1185 1153h4v27h-4zM1189 1160h5v10h-5zM1194 1164h4v18h-4zM1198 1183h4v12h-4zM1202 1183h4v12h-4zM1206 1176h4v22h-4zM1210 1169h5v19h-5zM1215 1154h4v38h-4zM1219 1162h4v27h-4zM1223 1180h4v8h-4zM1227 1160h5v33h-5zM1232 1167h4v24h-4zM1236 1176h4v11h-4zM1240 1164h4v40h-4zM1244 1202h4v15h-4zM1248 1199h5v20h-5zM1253 1157h4v23h-4zM1257 1159h4v26h-4zM1261 1171h4v8h-4zM1265 1183h4v9h-4zM1269 1166h5v18h-5zM1274 1161h4v14h-4zM1278 1167h4v19h-4zM1282 1153h4v39h-4zM1286 1172h4v9h-4zM1290 1162h5v12h-5zM1295 1155h4v16h-4zM1299 1184h4v3h-4zM1303 1151h4v8h-4zM1307 1157h4v5h-4zM1311 1153h4v8h-4zM1315 1183h5v18h-5zM1320 1156h4v5h-4zM1324 1156h4v10h-4zM1328 1151h4v32h-4zM1332 1171h4v8h-4zM1336 1152h4v17h-4zM1340 1153h4v16h-4zM1344 1161h5v2h-5zM1349 1158h4v13h-4zM1353 1158h4v5h-4zM1357 1144h4v12h-4zM1361 1159h4v3h-4zM1365 1142h4v28h-4zM1369 1159h5v18h-5zM1374 1177h4v8h-4zM1378 1154h4v6h-4zM1382 1153h4v15h-4zM1386 1137h4v14h-4zM1390 1149h5v12h-5zM1395 1158h4v4h-4zM1399 1150h4v15h-4zM1403 1163h4v10h-4zM1407 1156h5v7h-5zM1412 1148h4v17h-4zM1416 1145h4v13h-4zM1420 1157h5v9h-5zM1425 1147h4v9h-4zM1429 1145h4v14h-4zM1433 1149h4v6h-4zM1437 1147h5v11h-5zM1442 1145h4v11h-4zM1446 1147h4v7h-4zM1450 1138h4v8h-4zM1454 1140h5v8h-5zM1459 1148h4v4h-4zM1463 1146h4v8h-4zM1467 1149h5v9h-5zM1472 1153h4v3h-4zM1480 1134h4v2h-4zM1484 1139h5v2h-5zM1489 1139h4v4h-4zM1497 1134h5v2h-5zM1502 1138h4v2h-4zM1506 1132h4v1h-4zM1510 1142h4v3h-4zM1514 1135h5v1h-5zM1519 1135h4v2h-4zM1523 1133h4v2h-4zM1527 1138h4v1h-4zM1531 1142h5v2h-5zM1536 1131h4v2h-4zM1540 1138h4v1h-4zM1544 1139h5v1h-5zM1549 1138h4v1h-4zM1553 1134h4v2h-4zM1557 1147h4v3h-4zM1566 1136h4v2h-4zM1570 1139h4v3h-4zM1574 1142h4v3h-4zM1578 1143h5v6h-5zM1583 1147h4v9h-4zM1587 1146h4v6h-4zM1591 1156h5v6h-5zM1596 1143h4v2h-4zM1600 1138h4v7h-4zM1604 1151h4v3h-4zM1608 1138h5v7h-5zM1613 1147h4v3h-4zM1617 1157h4v5h-4zM1621 1146h4v4h-4zM1625 1134h5v6h-5zM1630 1146h4v2h-4zM1634 1157h4v1h-4zM1638 1138h5v8h-5z" fill="#b2df8a"/>
<path d="M19 1287h4v7h-4zM27 1307h4v7h-4zM40 1333h4v6h-4zM52 1335h5v7h-5zM69 1343h4v5h-4zM82 1324h4v7h-4zM90 1339h5v6h-5zM103 1274h4v7h-4zM111 1292h5v10h-5zM116 1141h4v6h-4zM137 1141h4v2h-4zM141 1132h4v3h-4zM154 1131h4v3h-4zM167 1141h4v6h-4zM184 1139h4v8h-4zM188 1130h4v5h-4zM196 1136h5v4h-5zM209 1140h4v5h-4zM213 1134h5v5h-5zM226 1151h4v3h-4zM235 1140h4v3h-4zM269 1129h4v4h-4zM307 1130h4v3h-4zM311 1234h4v7h-4zM328 1190h4v8h-4zM332 1237h4v16h-4zM336 1233h5v19h-5zM345 1193h4v13h-4zM362 1199h4v11h-4zM366 1169h4v16h-4zM370 1208h5v12h-5zM375 1281h4v9h-4zM387 1219h5v13h-5zM392 1238h4v11h-4zM396 1200h4v8h-4zM400 1191h4v10h-4zM404 1241h5v17h-5zM409 1233h4v13h-4zM413 1210h4v6h-4zM417 1242h4v12h-4zM421 1244h5v9h-5zM430 1225h4v17h-4zM434 1243h4v13h-4zM438 1277h5v9h-5zM443 1205h4v19h-4zM451 1231h4v14h-4zM464 1179h4v18h-4zM468 1198h4v15h-4zM481 1195h4v19h-4zM485 1220h4v10h-4zM489 1242h5v17h-5zM494 1227h4v12h-4zM498 1200h4v9h-4zM502 1271h4v18h-4zM506 1227h5v19h-5zM515 1287h4v15h-4zM519 1240h4v17h-4zM523 1225h5v9h-5zM528 1299h4v10h-4zM532 1312h4v10h-4zM545 1229h4v11h-4zM549 1200h4v11h-4zM553 1297h4v10h-4zM557 1291h5v7h-5zM566 1199h4v19h-4zM579 1281h4v10h-4zM583 1177h4v20h-4zM596 1217h4v13h-4zM600 1250h4v6h-4zM604 1243h4v16h-4zM608 1248h5v20h-5zM613 1302h4v9h-4zM617 1284h4v11h-4zM621 1222h4v13h-4zM630 1268h4v7h-4zM638 1245h4v8h-4zM647 1221h4v15h-4zM651 1194h4v18h-4zM663 1225h5v19h-5zM672 1192h4v9h-4zM676 1207h4v15h-4zM689 1253h4v19h-4zM697 1208h5v18h-5zM706 1233h4v10h-4zM710 1226h4v15h-4zM714 1245h5v16h-5zM719 1255h4v14h-4zM748 1299h5v18h-5zM757 1270h4v9h-4zM761 1232h4v7h-4zM765 1216h5v7h-5zM774 1175h4v10h-4zM782 1250h5v10h-5zM799 1188h5v8h-5zM808 1277h4v7h-4zM812 1268h4v13h-4zM816 1263h5v14h-5zM821 1204h4v16h-4zM825 1236h4v12h-4zM833 1217h5v8h-5zM838 1220h4v7h-4zM842 1188h4v19h-4zM846 1261h4v14h-4zM855 1227h4v8h-4zM863 1217h4v10h-4zM867 1204h5v17h-5zM876 1245h4v10h-4zM880 1214h4v6h-4zM884 1216h5v13h-5zM893 1256h4v18h-4zM897 1230h4v13h-4zM901 1200h5v15h-5zM906 1202h4v11h-4zM910 1172h4v13h-4zM914 1196h4v20h-4zM918 1202h5v13h-5zM927 1231h4v15h-4zM935 1200h5v12h-5zM940 1252h4v9h-4zM944 1233h4v7h-4zM948 1243h4v11h-4zM952 1248h5v11h-5zM957 1200h4v15h-4zM961 1178h4v18h-4zM965 1247h4v7h-4zM974 1236h4v6h-4zM982 1230h4v11h-4zM995 1254h4v15h-4zM1007 1248h5v9h-5zM1012 1251h4v12h-4zM1016 1283h4v16h-4zM1033 1252h4v18h-4zM1037 1251h4v15h-4zM1041 1176h5v9h-5zM1046 1306h4v11h-4zM1050 1210h4v19h-4zM1058 1242h5v15h-5zM1063 1183h4v14h-4zM1067 1298h4v7h-4zM1079 1158h4v4h-4zM1083 1139h5v7h-5zM1092 1137h4v5h-4zM1100 1164h4v3h-4zM1108 1153h5v7h-5zM1122 1145h4v4h-4zM1126 1165h5v3h-5zM1131 1150h4v6h-4zM1143 1168h4v4h-4zM1152 1166h4v3h-4zM1168 1168h5v8h-5zM1181 1168h4v3h-4zM1185 1147h4v6h-4zM1198 1177h4v6h-4zM1202 1177h4v6h-4zM1206 1168h4v8h-4zM1210 1166h5v3h-5zM1215 1151h4v3h-4zM1223 1173h4v7h-4zM1227 1156h5v4h-5zM1244 1194h4v8h-4zM1248 1191h5v8h-5zM1261 1166h4v5h-4zM1269 1162h5v4h-5zM1274 1153h4v8h-4zM1278 1161h4v6h-4zM1282 1149h4v4h-4zM1290 1158h5v4h-5zM1299 1178h4v6h-4zM1303 1143h4v8h-4zM1307 1149h4v8h-4zM1311 1149h4v4h-4zM1315 1178h5v5h-5zM1332 1164h4v7h-4zM1336 1147h4v5h-4zM1340 1149h4v4h-4zM1344 1155h5v6h-5zM1349 1154h4v4h-4zM1353 1152h4v6h-4zM1361 1153h4v6h-4zM1369 1152h5v7h-5zM1374 1172h4v5h-4zM1378 1147h4v7h-4zM1382 1144h4v9h-4zM1386 1133h4v4h-4zM1390 1141h5v8h-5zM1395 1154h4v4h-4zM1399 1140h4v10h-4zM1403 1157h4v6h-4zM1407 1150h5v6h-5zM1412 1139h4v9h-4zM1416 1138h4v7h-4zM1420 1152h5v5h-5zM1425 1146h4v1h-4zM1429 1142h4v3h-4zM1433 1148h4v1h-4zM1437 1144h5v3h-5zM1442 1140h4v5h-4zM1446 1140h4v7h-4zM1450 1137h4v1h-4zM1454 1138h5v2h-5zM1459 1143h4v5h-4zM1463 1139h4v7h-4zM1467 1145h5v4h-5zM1472 1151h4v2h-4zM1484 1135h5v4h-5zM1489 1137h4v2h-4zM1493 1137h4v6h-4zM1502 1136h4v2h-4zM1510 1137h4v5h-4zM1514 1133h5v2h-5zM1531 1139h5v3h-5zM1540 1137h4v1h-4zM1544 1136h5v3h-5zM1549 1135h4v3h-4zM1570 1135h4v4h-4zM1574 1136h4v6h-4zM1578 1138h5v5h-5zM1583 1144h4v3h-4zM1587 1141h4v5h-4zM1591 1150h5v6h-5zM1600 1136h4v2h-4zM1604 1149h4v2h-4zM1613 1143h4v4h-4zM1617 1156h4v1h-4zM1621 1142h4v4h-4zM1625 1133h5v1h-5zM1630 1140h4v6h-4zM1634 1150h4v7h-4zM1638 1135h5v3h-5zM1647 1126h4v1h-4z" fill="#6a3d9a"/>
<path d="M120 1135h4v8h-4zM128 1141h5v8h-5zM145 1136h5v11h-5zM158 1137h4v2h-4zM171 1131h4v3h-4zM179 1129h5v6h-5zM222 1139h4v8h-4zM226 1141h4v10h-4zM230 1132h5v4h-5zM264 1130h5v7h-5zM273 1126h4v4h-4zM281 1126h5v4h-5zM324 1233h4v7h-4zM328 1180h4v10h-4zM341 1221h4v13h-4zM349 1202h4v15h-4zM370 1198h5v10h-5zM396 1180h4v20h-4zM400 1183h4v8h-4zM404 1225h5v16h-5zM438 1273h5v4h-5zM477 1193h4v10h-4zM485 1199h4v21h-4zM519 1232h4v8h-4zM528 1279h4v20h-4zM549 1196h4v4h-4zM557 1284h5v7h-5zM570 1220h4v18h-4zM574 1220h5v8h-5zM583 1159h4v18h-4zM596 1214h4v3h-4zM613 1292h4v10h-4zM634 1230h4v12h-4zM647 1208h4v13h-4zM651 1180h4v14h-4zM655 1230h4v11h-4zM676 1197h4v10h-4zM685 1230h4v21h-4zM689 1241h4v12h-4zM702 1218h4v21h-4zM723 1228h4v15h-4zM744 1256h4v14h-4zM748 1281h5v18h-5zM753 1283h4v9h-4zM782 1232h5v18h-5zM791 1296h4v8h-4zM799 1181h5v7h-5zM804 1245h4v8h-4zM808 1265h4v12h-4zM821 1197h4v7h-4zM833 1213h5v4h-5zM838 1203h4v17h-4zM842 1170h4v18h-4zM846 1254h4v7h-4zM855 1213h4v14h-4zM859 1201h4v9h-4zM863 1202h4v15h-4zM872 1256h4v12h-4zM876 1234h4v11h-4zM884 1203h5v13h-5zM914 1186h4v10h-4zM923 1266h4v19h-4zM927 1228h4v3h-4zM961 1170h4v8h-4zM965 1229h4v18h-4zM974 1215h4v21h-4zM978 1257h4v16h-4zM982 1218h4v12h-4zM986 1167h5v18h-5zM1012 1233h4v18h-4zM1020 1252h4v10h-4zM1033 1240h4v12h-4zM1046 1303h4v3h-4zM1050 1205h4v5h-4zM1058 1223h5v19h-5zM1063 1164h4v19h-4zM1071 1138h4v26h-4zM1075 1137h4v10h-4zM1079 1130h4v28h-4zM1083 1131h5v8h-5zM1088 1133h4v13h-4zM1092 1133h4v4h-4zM1096 1161h4v10h-4zM1100 1162h4v2h-4zM1104 1139h4v4h-4zM1108 1148h5v5h-5zM1113 1144h4v10h-4zM1117 1144h5v13h-5zM1122 1131h4v14h-4zM1126 1136h5v29h-5zM1131 1132h4v18h-4zM1135 1140h4v13h-4zM1139 1142h4v53h-4zM1143 1148h4v20h-4zM1147 1150h5v21h-5zM1152 1132h4v34h-4zM1156 1167h4v25h-4zM1160 1143h4v11h-4zM1164 1145h4v22h-4zM1168 1162h5v6h-5zM1173 1141h4v27h-4zM1177 1140h4v9h-4zM1181 1151h4v17h-4zM1185 1130h4v17h-4zM1189 1130h5v30h-5zM1194 1142h4v22h-4zM1198 1148h4v29h-4zM1202 1144h4v33h-4zM1206 1136h4v32h-4zM1210 1150h5v16h-5zM1215 1134h4v17h-4zM1219 1150h4v12h-4zM1223 1142h4v31h-4zM1227 1147h5v9h-5zM1232 1150h4v17h-4zM1236 1155h4v21h-4zM1240 1149h4v15h-4zM1244 1146h4v48h-4zM1248 1148h5v43h-5zM1253 1134h4v23h-4zM1257 1147h4v12h-4zM1261 1134h4v32h-4zM1265 1162h4v21h-4zM1269 1135h5v27h-5zM1274 1134h4v19h-4zM1278 1152h4v9h-4zM1282 1136h4v13h-4zM1286 1136h4v36h-4zM1290 1151h5v7h-5zM1295 1146h4v9h-4zM1299 1169h4v9h-4zM1303 1140h4v3h-4zM1307 1144h4v5h-4zM1311 1135h4v14h-4zM1315 1145h5v33h-5zM1320 1139h4v17h-4zM1324 1138h4v18h-4zM1328 1141h4v10h-4zM1332 1147h4v17h-4zM1336 1141h4v6h-4zM1340 1132h4v17h-4zM1344 1151h5v4h-5zM1349 1148h4v6h-4zM1353 1134h4v18h-4zM1357 1137h4v7h-4zM1361 1150h4v3h-4zM1365 1133h4v9h-4zM1369 1130h5v22h-5zM1374 1148h4v24h-4zM1378 1136h4v11h-4zM1382 1128h4v16h-4zM1386 1128h4v5h-4zM1390 1129h5v12h-5zM1395 1136h4v18h-4zM1399 1132h4v8h-4zM1403 1133h4v24h-4zM1407 1134h5v16h-5zM1412 1132h4v7h-4zM1416 1129h4v9h-4zM1420 1141h5v11h-5zM1425 1133h4v13h-4zM1429 1130h4v12h-4zM1433 1142h4v6h-4zM1437 1133h5v11h-5zM1442 1134h4v6h-4zM1446 1133h4v7h-4zM1450 1128h4v9h-4zM1454 1133h5v5h-5zM1459 1133h4v10h-4zM1463 1128h4v11h-4zM1467 1131h5v14h-5zM1472 1143h4v8h-4zM1476 1137h4v4h-4zM1480 1132h4v2h-4zM1484 1132h5v3h-5zM1489 1132h4v5h-4zM1493 1131h4v6h-4zM1497 1127h5v7h-5zM1502 1132h4v4h-4zM1506 1127h4v5h-4zM1510 1132h4v5h-4zM1514 1128h5v5h-5zM1519 1133h4v2h-4zM1523 1131h4v2h-4zM1527 1135h4v3h-4zM1531 1135h5v4h-5zM1536 1129h4v2h-4zM1544 1131h5v5h-5zM1549 1130h4v5h-4zM1553 1133h4v1h-4zM1557 1143h4v4h-4zM1561 1132h5v4h-5zM1566 1131h4v5h-4zM1570 1132h4v3h-4zM1574 1128h4v8h-4zM1578 1134h5v4h-5zM1583 1136h4v8h-4zM1587 1135h4v6h-4zM1591 1134h5v16h-5zM1596 1138h4v5h-4zM1600 1131h4v5h-4zM1604 1144h4v5h-4zM1608 1130h5v8h-5zM1613 1140h4v3h-4zM1617 1150h4v6h-4zM1621 1132h4v10h-4zM1625 1130h5v3h-5zM1630 1131h4v9h-4zM1634 1139h4v11h-4zM1638 1130h5v5h-5z" fill="#a6cee3"/>
<path d="M44 1126h4v2h-4zM52 1126h5v4h-5zM61 1126h4v5h-4zM95 1126h4v2h-4zM99 1126h4v2h-4zM116 1126h4v15h-4zM120 1126h4v9h-4zM124 1126h4v12h-4zM128 1126h5v15h-5zM133 1126h4v13h-4zM137 1126h4v15h-4zM141 1126h4v6h-4zM145 1126h5v10h-5zM150 1126h4v10h-4zM154 1126h4v5h-4zM158 1126h4v11h-4zM162 1126h5v11h-5zM167 1126h4v15h-4zM171 1126h4v5h-4zM175 1126h4v5h-4zM179 1126h5v3h-5zM184 1126h4v13h-4zM188 1126h4v4h-4zM192 1126h4v16h-4zM196 1126h5v10h-5zM201 1126h4v6h-4zM205 1126h4v11h-4zM209 1126h4v14h-4zM213 1126h5v8h-5zM218 1126h4v5h-4zM222 1126h4v13h-4zM226 1126h4v15h-4zM230 1126h5v6h-5zM235 1126h4v14h-4zM243 1126h4v1h-4zM247 1126h5v2h-5zM264 1126h5v4h-5zM269 1126h4v3h-4zM290 1126h4v1h-4zM303 1126h4v2h-4zM307 1126h4v4h-4zM1071 1126h4v12h-4zM1075 1126h4v11h-4zM1079 1126h4v4h-4zM1083 1126h5v5h-5zM1088 1126h4v7h-4zM1092 1126h4v7h-4zM1096 1126h4v35h-4zM1100 1126h4v36h-4zM1104 1126h4v13h-4zM1108 1126h5v22h-5zM1113 1126h4v18h-4zM1117 1126h5v18h-5zM1122 1126h4v5h-4zM1126 1126h5v10h-5zM1131 1126h4v6h-4zM1135 1126h4v14h-4zM1139 1126h4v16h-4zM1143 1126h4v22h-4zM1147 1126h5v24h-5zM1152 1126h4v6h-4zM1156 1126h4v41h-4zM1160 1126h4v17h-4zM1164 1126h4v19h-4zM1168 1126h5v36h-5zM1173 1126h4v15h-4zM1177 1126h4v14h-4zM1181 1126h4v25h-4zM1185 1126h4v4h-4zM1189 1126h5v4h-5zM1194 1126h4v16h-4zM1198 1126h4v22h-4zM1202 1126h4v18h-4zM1206 1126h4v10h-4zM1210 1126h5v24h-5zM1215 1126h4v8h-4zM1219 1126h4v24h-4zM1223 1126h4v16h-4zM1227 1126h5v21h-5zM1232 1126h4v24h-4zM1236 1126h4v29h-4zM1240 1126h4v23h-4zM1244 1126h4v20h-4zM1248 1126h5v22h-5zM1253 1126h4v8h-4zM1257 1126h4v21h-4zM1261 1126h4v8h-4zM1265 1126h4v36h-4zM1269 1126h5v9h-5zM1274 1126h4v8h-4zM1278 1126h4v26h-4zM1282 1126h4v10h-4zM1286 1126h4v10h-4zM1290 1126h5v25h-5zM1295 1126h4v20h-4zM1299 1126h4v43h-4zM1303 1126h4v14h-4zM1307 1126h4v18h-4zM1311 1126h4v9h-4zM1315 1126h5v19h-5zM1320 1126h4v13h-4zM1324 1126h4v12h-4zM1328 1126h4v15h-4zM1332 1126h4v21h-4zM1336 1126h4v15h-4zM1340 1126h4v6h-4zM1344 1126h5v25h-5zM1349 1126h4v22h-4zM1353 1126h4v8h-4zM1357 1126h4v11h-4zM1361 1126h4v24h-4zM1365 1126h4v7h-4zM1369 1126h5v4h-5zM1374 1126h4v22h-4zM1378 1126h4v10h-4zM1382 1126h4v2h-4zM1386 1126h4v2h-4zM1390 1126h5v3h-5zM1395 1126h4v10h-4zM1399 1126h4v6h-4zM1403 1126h4v7h-4zM1407 1126h5v8h-5zM1412 1126h4v6h-4zM1416 1126h4v3h-4zM1420 1126h5v15h-5zM1425 1126h4v7h-4zM1429 1126h4v4h-4zM1433 1126h4v16h-4zM1437 1126h5v7h-5zM1442 1126h4v8h-4zM1446 1126h4v7h-4zM1450 1126h4v2h-4zM1454 1126h5v7h-5zM1459 1126h4v7h-4zM1463 1126h4v2h-4zM1467 1126h5v5h-5zM1472 1126h4v17h-4zM1476 1126h4v11h-4zM1480 1126h4v6h-4zM1484 1126h5v6h-5zM1489 1126h4v6h-4zM1493 1126h4v5h-4zM1497 1126h5v1h-5zM1502 1126h4v6h-4zM1506 1126h4v1h-4zM1510 1126h4v6h-4zM1514 1126h5v2h-5zM1519 1126h4v7h-4zM1523 1126h4v5h-4zM1527 1126h4v9h-4zM1531 1126h5v9h-5zM1536 1126h4v3h-4zM1540 1126h4v11h-4zM1544 1126h5v5h-5zM1549 1126h4v4h-4zM1553 1126h4v7h-4zM1557 1126h4v17h-4zM1561 1126h5v6h-5zM1566 1126h4v5h-4zM1570 1126h4v6h-4zM1574 1126h4v2h-4zM1578 1126h5v8h-5zM1583 1126h4v10h-4zM1587 1126h4v9h-4zM1591 1126h5v8h-5zM1596 1126h4v12h-4zM1600 1126h4v5h-4zM1604 1126h4v18h-4zM1608 1126h5v4h-5zM1613 1126h4v14h-4zM1617 1126h4v24h-4zM1621 1126h4v6h-4zM1625 1126h5v4h-5zM1630 1126h4v5h-4zM1634 1126h4v13h-4zM1638 1126h5v4h-5zM1669 1126h5v2h-5zM1683 1126h4v1h-4zM1687 1126h4v2h-4zM1695 1126h4v11h-4zM1699 1126h4v9h-4z" fill="#cab2d6"/>
</g>
<path d="M116 1126V1360.5M311 1126V1360.5M1071 1126V1360.5M1382 1126V1360.5M1643 1126V1360.5M1691 1126V1360.5" stroke="#fff" stroke-opacity="0.55" stroke-width="1" stroke-dasharray="2 2" fill="none"/>
<text transform="translate(1731.2 1230.2) rotate(90)" font-size="13.5" fill="#3a3a3a" textLength="26.5" lengthAdjust="spacing">K=8</text>
<path d="M5 1372.3H1728.6M5 1481.6H1728.6" stroke="#4a4a4a" stroke-width="2.4" fill="none"/>
<path d="M6 1366.8v11M115.6 1366.8v11M311 1366.8v11M1071.2 1366.8v11M1108 1366.8v11M1130.6 1366.8v11M1307.2 1366.8v11M1381.8 1366.8v11M1642.6 1366.8v11M1691.4 1366.8v11M1727.6 1366.8v11M6 1476.1v11M115.6 1476.1v11M311 1476.1v11M1071.2 1476.1v11M1381.8 1476.1v11M1642.6 1476.1v11M1691.4 1476.1v11M1727.6 1476.1v11" stroke="#4a4a4a" stroke-width="1.6" fill="none"/>
<g font-size="32" fill="#000" stroke="#000" stroke-width="0.3" text-anchor="end">
<text transform="translate(74.3 1392.3) scale(1.1 1) rotate(-90)">GOL</text>
<text transform="translate(227.6 1392.3) scale(1.1 1) rotate(-90)">SYD</text>
<text transform="translate(704.9 1392.3) scale(1.1 1) rotate(-90)">NZO</text>
<text transform="translate(1103.4 1392.3) scale(1.1 1) rotate(-90)">FIJ</text>
<text transform="translate(1132.4 1392.3) scale(1.1 1) rotate(-90)">MAH</text>
<text transform="translate(1233.4 1392.3) scale(1.1 1) rotate(-90)">MEL</text>
<text transform="translate(1358.3 1392.3) scale(1.1 1) rotate(-90)">NZN</text>
<text transform="translate(1525.1 1392.3) scale(1.1 1) rotate(-90)">IND</text>
<text transform="translate(1680.8 1392.3) scale(1.1 1) rotate(-90)">HAW</text>
<text transform="translate(1721.9 1392.3) scale(1.1 1) rotate(-90)">SAF</text>
</g>
<g font-size="31.5" fill="#000" stroke="#000" stroke-width="0.3" text-anchor="middle">
<text transform="translate(60.5 1519) scale(1.06 1)">1</text>
<text transform="translate(214 1519) scale(1.06 1)">2A</text>
<text transform="translate(697 1519) scale(1.06 1)">2B</text>
<text transform="translate(1227.6 1519) scale(1.06 1)">2C</text>
<text transform="translate(1514.3 1519) scale(1.06 1)">3</text>
<text transform="translate(1667.6 1519) scale(1.06 1)">4</text>
<text transform="translate(1710.5 1519) scale(1.06 1)">5</text>
</g>
<text x="805.5" y="1535.3" font-size="38" font-weight="bold" fill="#000" textLength="131" lengthAdjust="spacingAndGlyphs">Cluster</text>
<text x="20.2" y="1174.3" font-size="45.5" font-weight="bold" fill="#000" textLength="29.5" lengthAdjust="spacingAndGlyphs">C</text>
</svg>
</body></html>
